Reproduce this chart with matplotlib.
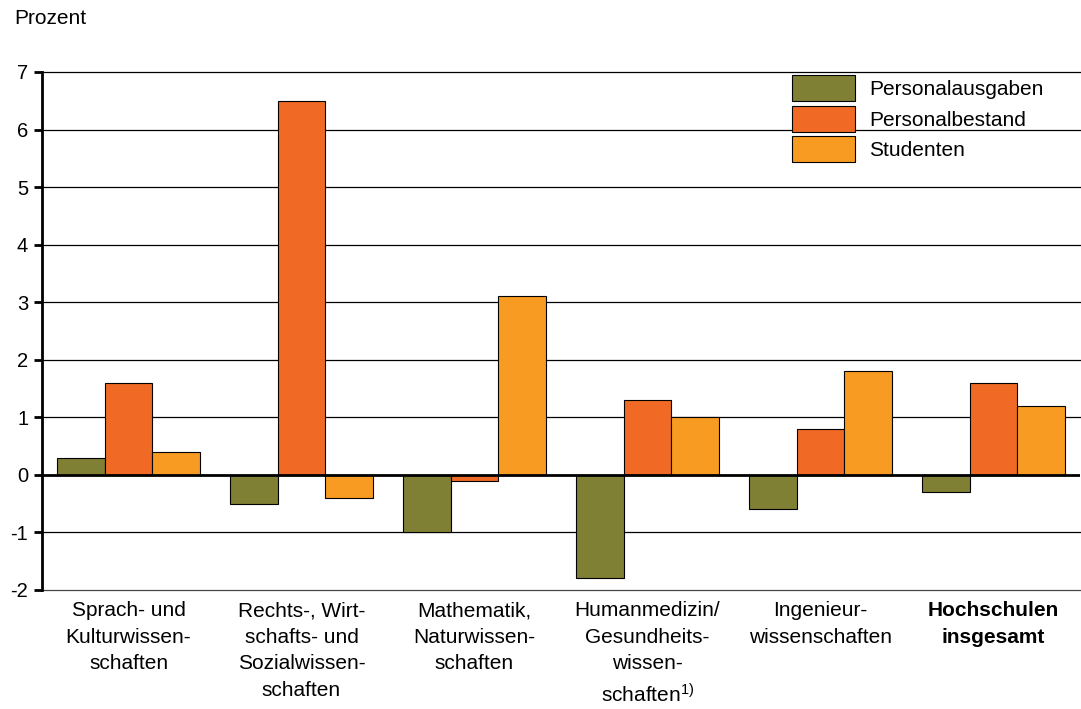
"""
Bar chart: Veränderung Personalausgaben, Personalbestand, Studenten (Prozent).
"""

import numpy as np
import matplotlib.pyplot as plt

# data
categories = [
    'Sprach- und\nKulturwissen-\nschaften',
    'Rechts-, Wirt-\nschafts- und\nSozialwissen-\nschaften',
    'Mathematik,\nNaturwissen-\nschaften',
    'Humanmedizin/\nGesundheits-\nwissen-\nschaften$^{1)}$',
    'Ingenieur-\nwissenschaften',
    'Hochschulen\ninsgesamt',
]
series_names = ['Personalausgaben', 'Personalbestand', 'Studenten']
personalausgaben = [0.3, -0.5, -1.0, -1.8, -0.6, -0.3]
personalbestand = [1.6, 6.5, -0.1, 1.3, 0.8, 1.6]
studenten = [0.4, -0.4, 3.1, 1.0, 1.8, 1.2]
y_ticks = [-2, -1, 0, 1, 2, 3, 4, 5, 6, 7]

colors = ['#808035', '#F06A26', '#F89B22']

plt.rcParams['font.family'] = ['Liberation Sans', 'DejaVu Sans']
plt.rcParams['mathtext.fontset'] = 'custom'
plt.rcParams['mathtext.rm'] = 'Liberation Sans'
plt.rcParams['mathtext.it'] = 'Liberation Sans'

plt.close('all')
fig = plt.figure(figsize=(10.81, 7.09), dpi=100)
ax = fig.add_axes([0.0389, 0.168, 0.96, 0.7305])

x = np.arange(len(categories))
w = 0.275
all_series = [personalausgaben, personalbestand, studenten]
for i, (vals, name) in enumerate(zip(all_series, series_names)):
    ax.bar(x + (i - 1) * w, vals, w, color=colors[i], edgecolor='black',
           linewidth=0.8, label=name, zorder=3)

ax.set_xlim(-0.5, len(categories) - 0.5)
ax.set_ylim(-2, 7)
ax.set_yticks(y_ticks)
ax.set_yticklabels([str(t) for t in y_ticks], fontsize=14.5)
for t in y_ticks:
    if t == 0:
        continue
    ax.axhline(t, color='#444444' if t == -2 else 'black', linewidth=0.9,
               zorder=1, clip_on=False)
ax.axhline(0, color='black', linewidth=2, zorder=4)

for s in ['top', 'right', 'bottom']:
    ax.spines[s].set_visible(False)
ax.spines['left'].set_linewidth(2)
ax.tick_params(axis='y', length=6, width=2, pad=4)
ax.tick_params(axis='x', length=0)
ax.set_xticks([])

for xi, lab in zip(x, categories):
    bold = lab.startswith('Hochschulen')
    ax.text(xi, -2.2, lab, ha='center', va='top', fontsize=15,
            fontweight='bold' if bold else 'normal', linespacing=1.5)

fig.text(0.013, 0.974, 'Prozent', fontsize=15, ha='left', va='center')

leg = ax.legend(loc='upper left', bbox_to_anchor=(792 / 1081, 1 - 75 / 709),
                bbox_transform=fig.transFigure, frameon=False,
                fontsize=15, handlelength=3.0, handleheight=1.55,
                labelspacing=0.22, handletextpad=0.72, borderpad=0,
                borderaxespad=0)

fig.savefig('out.png', dpi=100)
